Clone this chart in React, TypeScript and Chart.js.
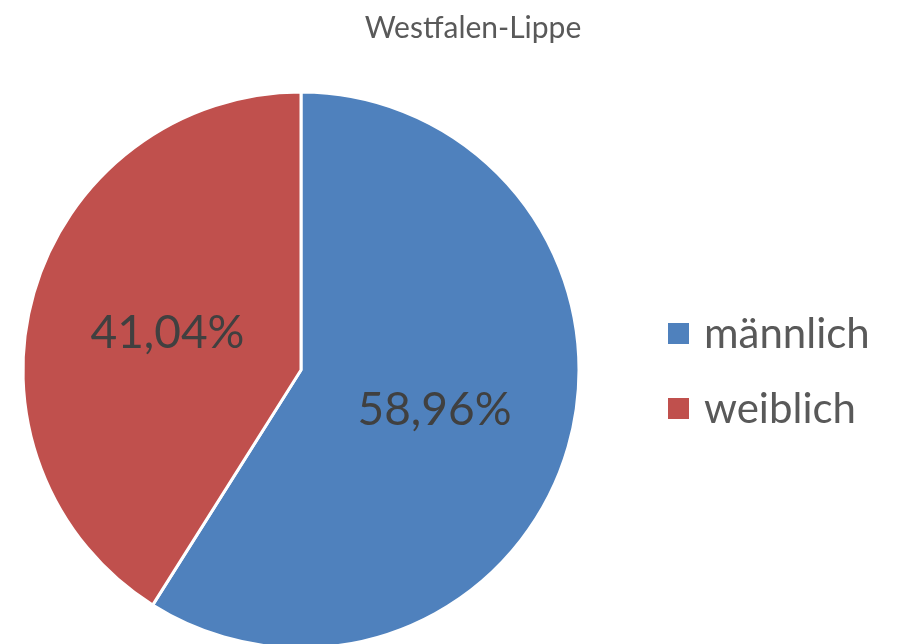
import React, { useEffect, useRef } from "react";
import { Chart, registerables } from "chart.js";

Chart.register(...registerables);

const TITLE = "Westfalen-Lippe";
const categories = ["männlich", "weiblich"];
const values = [58.96, 41.04];
const colors = ["#4F81BD", "#C0504D"];

const FONT = "Lato, 'Open Sans', sans-serif";

const overlayPlugin = {
  id: "overlay",
  afterDatasetsDraw(chart: any) {
    const ctx = chart.ctx;
    const meta = chart.getDatasetMeta(0);
    const total = values.reduce((a, b) => a + b, 0);
    ctx.save();
    // slice labels
    ctx.fillStyle = "#404040";
    ctx.font = `46px ${FONT}`;
    ctx.textAlign = "center";
    ctx.textBaseline = "middle";
    meta.data.forEach((arc: any, i: number) => {
      const p = arc.getCenterPoint();
      const pct = ((values[i] / total) * 100).toFixed(2).replace(".", ",") + "%";
      ctx.fillText(pct, p.x, p.y + 2);
    });
    // title
    ctx.fillStyle = "#595959";
    ctx.font = `30px ${FONT}`;
    ctx.textAlign = "center";
    ctx.textBaseline = "alphabetic";
    ctx.fillText(TITLE, 473, 38);
    // legend
    const rows = [333, 408];
    ctx.font = `42px ${FONT}`;
    ctx.textAlign = "left";
    categories.forEach((c, i) => {
      const y = rows[i];
      ctx.fillStyle = colors[i];
      ctx.fillRect(668, y - 10, 21, 21);
      ctx.fillStyle = "#595959";
      ctx.textBaseline = "middle";
      ctx.fillText(c, 704, y + 1);
    });
    ctx.restore();
  },
};

export default function App() {
  const ref = useRef<HTMLCanvasElement>(null);
  useEffect(() => {
    if (!ref.current) return;
    const chart = new Chart(ref.current, {
      type: "pie",
      data: {
        labels: categories,
        datasets: [
          {
            data: values,
            backgroundColor: colors,
            borderColor: "#FFFFFF",
            borderWidth: 3,
            radius: 278,
          },
        ],
      },
      options: {
        animation: false,
        responsive: false,
        layout: { padding: { left: 0, right: 300, top: 96, bottom: 0 } },
        plugins: {
          legend: { display: false },
          title: { display: false },
          tooltip: { enabled: false },
        },
      },
      plugins: [overlayPlugin],
    });
    return () => chart.destroy();
  }, []);
  return (
    <div style={{ position: "fixed", left: 0, top: 0, width: 902, height: 644, background: "#fff", overflow: "hidden" }}>
      <canvas ref={ref} width={902} height={644} style={{ display: "block" }} />
    </div>
  );
}
